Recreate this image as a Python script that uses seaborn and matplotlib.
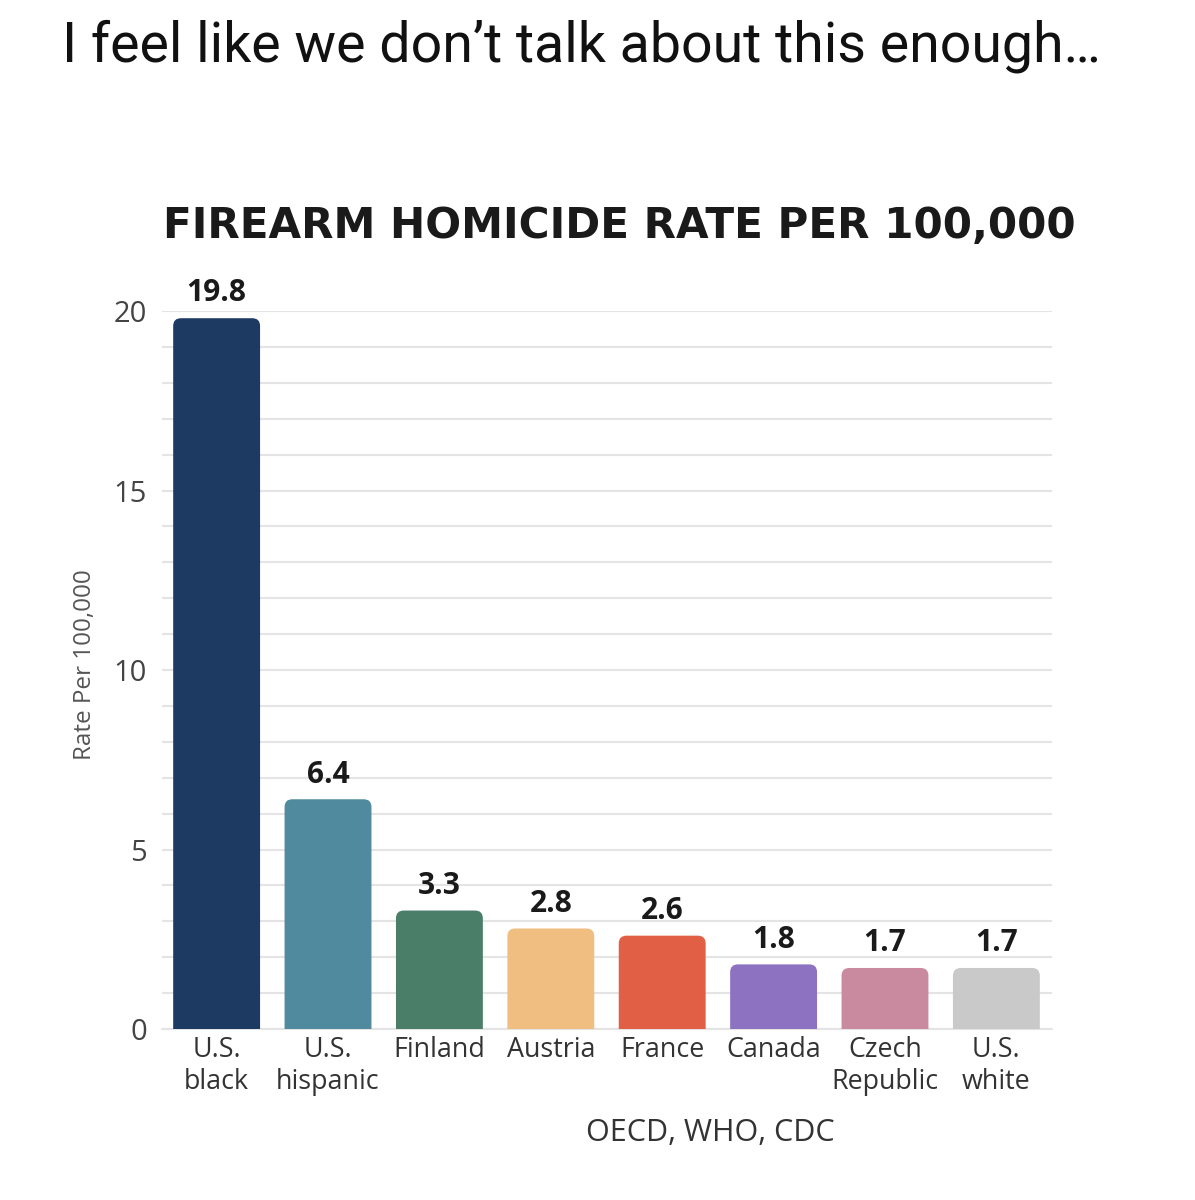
import matplotlib
matplotlib.use("Agg")
import matplotlib.pyplot as plt
import seaborn as sns
import pandas as pd
from matplotlib.patches import FancyBboxPatch
from matplotlib.ticker import MultipleLocator

# data
categories = ["U.S.\nblack", "U.S.\nhispanic", "Finland", "Austria",
              "France", "Canada", "Czech\nRepublic", "U.S.\nwhite"]
rates = [19.8, 6.4, 3.3, 2.8, 2.6, 1.8, 1.7, 1.7]
colors = ["#1d3a63", "#4f8a9e", "#4a7e69", "#efbe80",
          "#e05f45", "#8c72c0", "#c98a9f", "#c9c9c9"]
yticks = [0, 5, 10, 15, 20]

df = pd.DataFrame({"country": categories, "rate": rates})

sns.set_theme(style="white")
plt.rcParams["font.family"] = ["Open Sans", "DejaVu Sans"]

fig = plt.figure(figsize=(11.95, 12), dpi=100)
ax = fig.add_axes([0.1356, 0.1425, 0.7448, 0.5983])

sns.barplot(data=df, x="country", y="rate", hue="country", palette=colors,
            legend=False, width=0.78, saturation=1, ax=ax)

# value labels on top of bars
for cont in ax.containers:
    ax.bar_label(cont, fmt="%.1f", padding=7, fontsize=21.5,
                 fontweight="bold", color="#1a1a1a")

# swap plain bars for rounded ones
for bar in list(ax.patches):
    x, w, h = bar.get_x(), bar.get_width(), bar.get_height()
    fc = bar.get_facecolor()
    bar.remove()
    ax.add_patch(FancyBboxPatch((x, -1), w, h + 1,
                                boxstyle="round,pad=0,rounding_size=0.07",
                                mutation_aspect=3.1, fc=fc, ec="none", zorder=3))

ax.set_xlim(-0.49, 7.5)
ax.set_ylim(0, 20)
ax.set_yticks(yticks)
ax.yaxis.set_minor_locator(MultipleLocator(1))
ax.grid(axis="y", which="both", color="#e4e4e4", lw=1.5, zorder=0)
ax.set_axisbelow(True)
ax.axhline(0, color="#e4e4e4", lw=1.5, clip_on=False, zorder=1)
for s in ax.spines.values():
    s.set_visible(False)

ax.tick_params(axis="both", which="both", length=0)
ax.tick_params(axis="y", labelsize=21, labelcolor="#444444", pad=11)
ax.tick_params(axis="x", labelsize=19.4, labelcolor="#333333", pad=5)
for lbl in ax.get_xticklabels():
    lbl.set_linespacing(1.2)

ax.set_xlabel("")
ax.set_ylabel("Rate Per 100,000", fontsize=17.5, color="#555555")
ax.yaxis.set_label_coords(-0.073, 0.507)

fig.text(62 / 1195, 1 - 46 / 1200, "I feel like we don’t talk about this enough…",
         fontsize=40, family=["Roboto", "DejaVu Sans"], color="#111111", va="center")
fig.text(163 / 1195, 1 - 226 / 1200, "FIREARM HOMICIDE RATE PER 100,000",
         fontsize=30.3, fontweight="bold", family=["DejaVu Sans"],
         color="#1a1a1a", va="center")
fig.text(710 / 1195, 1 - 1133 / 1200, "OECD, WHO, CDC",
         fontsize=22, color="#333333", ha="center", va="center")

fig.savefig("out.png", dpi=100, facecolor="white")
